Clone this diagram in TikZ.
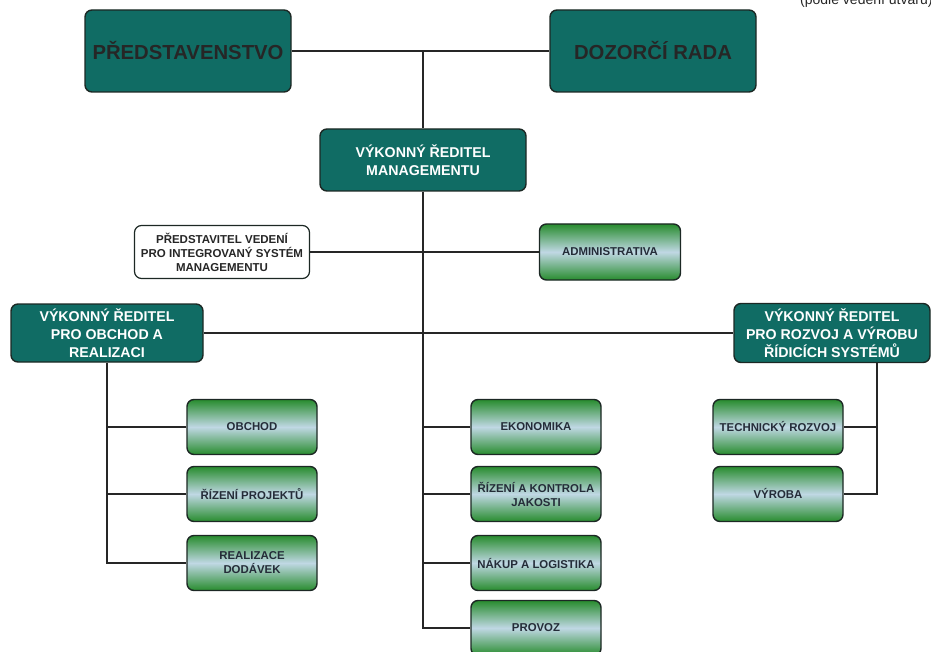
\documentclass[tikz,border=0pt]{standalone}
\usepackage{fontspec}
\setmainfont{Liberation Sans}
\usetikzlibrary{calc}
\definecolor{tealbox}{RGB}{16,108,100}
\definecolor{greenbox}{RGB}{40,140,46}
\definecolor{greenlight}{RGB}{192,216,228}
\definecolor{boxedge}{RGB}{28,40,36}
\definecolor{greentext}{RGB}{36,44,56}
\tikzset{
  base/.style={draw=boxedge, line width=1.4pt, rounded corners=7pt, align=center, inner sep=0pt},
  board/.style={base, fill=tealbox, minimum width=206, minimum height=82,
    font=\bfseries\fontsize{20.3}{24}\selectfont, text=black!85},
  director/.style={base, fill=tealbox, text=white,
    font=\bfseries\fontsize{14.2}{18}\selectfont},
  dept/.style={base, top color=greenbox, bottom color=greenbox, middle color=greenlight,
    minimum width=130, minimum height=55, text=greentext,
    font=\bfseries\fontsize{11.4}{14}\selectfont},
  repbox/.style={base, fill=white, line width=1.2pt, text=black!85,
    minimum width=175, minimum height=53,
    font=\bfseries\fontsize{11.5}{14}\selectfont},
  link/.style={draw=black!85, line width=1.2pt}
}
\begin{document}
\begin{tikzpicture}[x=1pt,y=-1pt]
\useasboundingbox (0,0) rectangle (931,652);
\clip (0,0) rectangle (931,652);

% caption in the corner
\node[anchor=base west, inner sep=0pt, font=\fontsize{14}{16}\selectfont, text=black!85] (note) at (800,5) {(podle vedení útvarů)};

% board level
\node[board] (pred) at (188,51) {PŘEDSTAVENSTVO};
\node[board] (dozor) at (653,51) {DOZORČÍ RADA};

% executive directors
\node[director, minimum width=206, minimum height=62] (vrm) at (423,160) {VÝKONNÝ ŘEDITEL\\MANAGEMENTU};
\node[director, minimum width=192, minimum height=58] (vro) at (107,333) {VÝKONNÝ ŘEDITEL\\PRO OBCHOD A\\REALIZACI};
\node[director, minimum width=196, minimum height=59] (vrr) at (832,333) {VÝKONNÝ ŘEDITEL\\PRO ROZVOJ A VÝROBU\\ŘÍDICÍCH SYSTÉMŮ};
\coordinate (top) at (pred.east -| vrm.north);

% staff units
\node[repbox] (isms) at (222,252) {PŘEDSTAVITEL VEDENÍ\\PRO INTEGROVANÝ SYSTÉM\\MANAGEMENTU};
\node[dept, minimum width=141, minimum height=56] (admin) at (610,252) {ADMINISTRATIVA};

% departments
\node[dept] (obchod) at (252,427) {OBCHOD};
\node[dept] (rizpro) at (252,494) {ŘÍZENÍ PROJEKTŮ};
\node[dept] (realiz) at (252,563) {REALIZACE\\DODÁVEK};
\node[dept] (ekon) at (536,427) {EKONOMIKA};
\node[dept] (jakost) at (536,494) {ŘÍZENÍ A KONTROLA\\JAKOSTI};
\node[dept] (nakup) at (536,563) {NÁKUP A LOGISTIKA};
\node[dept] (provoz) at (536,628) {PROVOZ};
\node[dept] (tech) at (778,427) {TECHNICKÝ ROZVOJ};
\node[dept] (vyroba) at (778,494) {VÝROBA};

% connectors
\draw[link] (pred.east) -- (dozor.west);
\draw[link] (top) -- (vrm.north);
\draw[link] (vrm.south) |- (provoz.west);
\draw[link] (isms.east) -- (admin.west);
\draw[link] (vro.east) -- (vrr.west);
\draw[link] (ekon.west) -- (ekon.west -| vrm.south);
\draw[link] (jakost.west) -- (jakost.west -| vrm.south);
\draw[link] (nakup.west) -- (nakup.west -| vrm.south);
\draw[link] (vro.south) |- (realiz.west);
\draw[link] (obchod.west) -- (obchod.west -| vro.south);
\draw[link] (rizpro.west) -- (rizpro.west -| vro.south);
\coordinate (rdrop) at ($(vrr.south)+(45,0)$);
\draw[link] (rdrop) |- (vyroba.east);
\draw[link] (tech.east) -- (tech.east -| rdrop);
\end{tikzpicture}
\end{document}
